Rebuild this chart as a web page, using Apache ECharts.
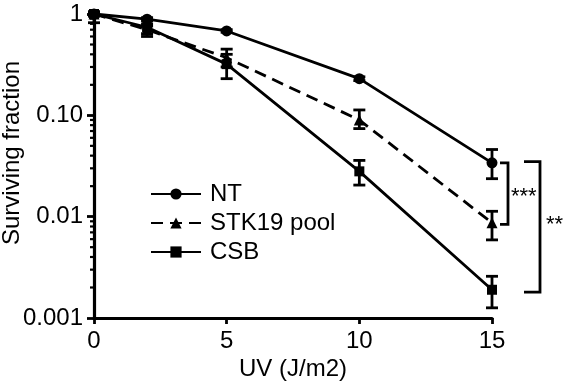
<!DOCTYPE html>
<html>
<head>
<meta charset="utf-8">
<script src="https://cdn.jsdelivr.net/npm/echarts@6/dist/echarts.min.js"></script>
<style>
html,body{margin:0;padding:0;background:#fff;}
#chart{width:564px;height:383px;}
</style>
</head>
<body>
<div id="chart"></div>
<script>
// ---- data ----
const doses = [0, 2, 5, 10, 15];
const ntMean   = [1.0, 0.89, 0.68, 0.23, 0.034];
const ntLow    = [0.97, 0.86, 0.66, 0.22, 0.0237];
const ntHigh   = [1.03, 0.92, 0.70, 0.24, 0.046];
const stkMean  = [1.0, 0.70, 0.37, 0.090, 0.0087];
const stkLow   = [0.95, 0.64, 0.30, 0.074, 0.0059];
const stkHigh  = [1.05, 0.76, 0.45, 0.113, 0.0113];
const csbMean  = [1.0, 0.74, 0.32, 0.028, 0.0019];
const csbLow   = [0.82, 0.60, 0.23, 0.0205, 0.00126];
const csbHigh  = [1.05, 0.80, 0.40, 0.0359, 0.00258];
const yTickValues = [0.001, 0.01, 0.1, 1];
const yTickLabels = ['0.001', '0.01', '0.10', '1'];
const xTickLabels = ['0', '5', '10', '15'];
const minorTickValues = [];
[0.001, 0.01, 0.1].forEach(function (d) {
  for (let k = 2; k <= 9; k++) minorTickValues.push(+(d * k).toPrecision(3));
});
const seriesNames = ['NT', 'STK19 pool', 'CSB'];
// significance brackets: [dose, top value, bottom value, label]
const sigBrackets = [
  [15, 0.034, 0.0084, '***'],
  [15, 0.035, 0.0018, '**']
];

const FONT = 'Liberation Sans, Arial, sans-serif';
const FS = 24;
const LW = 2.8;
const chart = echarts.init(document.getElementById('chart'), null, {renderer: 'canvas'});

function pairs(xs, ys) { return xs.map(function (x, i) { return [x, ys[i]]; }); }
function errData(lo, hi) { return doses.map(function (x, i) { return [x, lo[i], hi[i]]; }); }

function errRender(params, api) {
  const x = api.value(0);
  const p1 = api.coord([x, api.value(1)]);
  const p2 = api.coord([x, api.value(2)]);
  const cw = 6;
  const st = {stroke: '#000', lineWidth: LW};
  return {
    type: 'group',
    children: [
      {type: 'line', shape: {x1: p1[0], y1: p1[1], x2: p2[0], y2: p2[1]}, style: st},
      {type: 'line', shape: {x1: p1[0] - cw, y1: p1[1], x2: p1[0] + cw, y2: p1[1]}, style: st},
      {type: 'line', shape: {x1: p2[0] - cw, y1: p2[1], x2: p2[0] + cw, y2: p2[1]}, style: st}
    ]
  };
}

function errSeries(lo, hi) {
  return {
    type: 'custom', renderItem: errRender, data: errData(lo, hi),
    encode: {x: 0, y: [1, 2]}, clip: false, z: 3, silent: true
  };
}

const option = {
  animation: false,
  backgroundColor: '#fff',
  grid: {left: 94, right: 72, top: 14, bottom: 65, containLabel: false, outerBoundsMode: 'none'},
  legend: {
    orient: 'vertical', left: 145, top: 177,
    itemWidth: 50, itemHeight: 14, itemGap: 5,
    textStyle: {fontFamily: FONT, fontSize: FS, color: '#000', padding: [0, 0, 0, 4]},
    data: seriesNames
  },
  xAxis: {
    type: 'value', min: 0, max: 15, interval: 5,
    axisLine: {lineStyle: {color: '#000', width: 3.2}},
    axisTick: {show: true, length: 6, lineStyle: {color: '#000', width: 2.8}},
    splitLine: {show: false},
    axisLabel: {
      fontFamily: FONT, fontSize: FS, color: '#000', margin: 11,
      formatter: function (v) { return xTickLabels[[0, 5, 10, 15].indexOf(v)]; }
    },
    name: 'UV (J/m2)', nameLocation: 'middle', nameGap: 39, nameMoveOverlap: false,
    nameTextStyle: {fontFamily: FONT, fontSize: FS, color: '#000'}
  },
  yAxis: {
    type: 'log', logBase: 10, min: 0.001, max: 1,
    axisLine: {lineStyle: {color: '#000', width: 3.2}},
    axisTick: {show: true, length: 7, lineStyle: {color: '#000', width: 2.8}},
    splitLine: {show: false},
    minorTick: {show: false},
    axisLabel: {
      fontFamily: FONT, fontSize: FS, color: '#000', margin: 11,
      formatter: function (v) {
        let best = 0;
        yTickValues.forEach(function (t, i) {
          if (Math.abs(Math.log10(t) - Math.log10(v)) < 0.01) best = i;
        });
        return yTickLabels[best];
      }
    },
    name: 'Surviving fraction', nameLocation: 'middle', nameGap: 70, nameRotate: 90,
    nameMoveOverlap: false,
    nameTextStyle: {fontFamily: FONT, fontSize: FS, color: '#000', padding: [0, 0, 0, 26]}
  },
  series: [
    {
      type: 'custom', silent: true, clip: false, z: 1,
      data: minorTickValues.map(function (v) { return [0, v]; }),
      renderItem: function (params, api) {
        const p = api.coord([api.value(0), api.value(1)]);
        return {type: 'line', shape: {x1: p[0] - 4, y1: p[1], x2: p[0], y2: p[1]},
          style: {stroke: '#000', lineWidth: 2.2}};
      }
    },
    errSeries(ntLow, ntHigh),
    errSeries(stkLow, stkHigh),
    errSeries(csbLow, csbHigh),
    {
      name: 'NT', type: 'line', data: pairs(doses, ntMean),
      symbol: 'circle', symbolSize: 11, z: 4,
      lineStyle: {color: '#000', width: LW}, itemStyle: {color: '#000'}
    },
    {
      name: 'STK19 pool', type: 'line', data: pairs(doses, stkMean),
      symbol: 'triangle', symbolSize: 11, z: 4,
      lineStyle: {color: '#000', width: LW, type: [12, 7]}, itemStyle: {color: '#000'}
    },
    {
      name: 'CSB', type: 'line', data: pairs(doses, csbMean),
      symbol: 'rect', symbolSize: 10, z: 4,
      lineStyle: {color: '#000', width: LW}, itemStyle: {color: '#000'}
    },
    {
      type: 'custom', silent: true, clip: false, z: 5,
      data: sigBrackets.map(function (b) { return [b[0], b[1], b[2]]; }),
      renderItem: function (params, api) {
        const i = params.dataIndex;
        const x = api.value(0);
        const pT = api.coord([x, api.value(1)]);
        const pB = api.coord([x, api.value(2)]);
        const off = i === 0 ? [8, 16] : [32, 48];
        const xa = pT[0] + off[0], xb = pT[0] + off[1];
        const st = {stroke: '#000', lineWidth: LW, fill: null};
        return {
          type: 'group',
          children: [
            {type: 'polyline', shape: {points: [[xa, pT[1]], [xb, pT[1]], [xb, pB[1]], [xa, pB[1]]]}, style: st},
            {type: 'text', x: xb + (i === 0 ? 3 : 6), y: (pT[1] + pB[1]) / 2 + (i === 0 ? 3 : -2),
              style: {text: sigBrackets[i][3], fontFamily: FONT, fontSize: 22, fill: '#000',
                align: 'left', verticalAlign: 'middle'}}
          ]
        };
      }
    }
  ]
};
chart.setOption(option);
</script>
</body>
</html>
